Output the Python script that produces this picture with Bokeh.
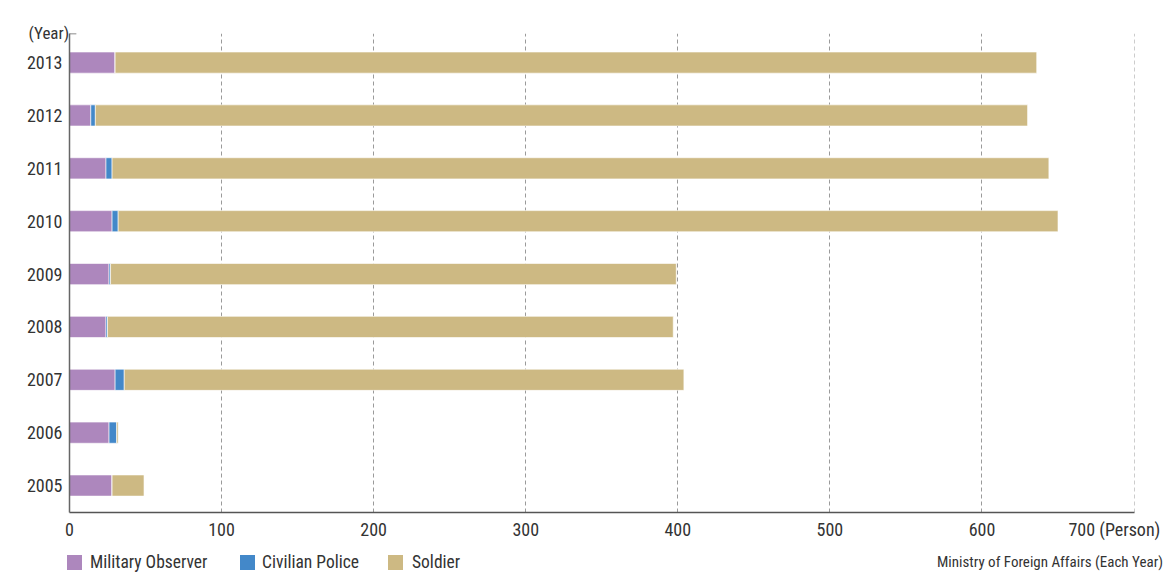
from bokeh.plotting import figure
from bokeh.layouts import column
from bokeh.models import ColumnDataSource, Range1d, FixedTicker, Title, Div
from bokeh.embed import file_html
from bokeh.resources import INLINE

years = [2005, 2006, 2007, 2008, 2009, 2010, 2011, 2012, 2013]
military_observer = [28, 26, 30, 24, 26, 28, 24, 14, 30]
civilian_police = [0, 5, 6, 1, 1, 4, 4, 3, 0]
soldier = [21, 1, 368, 372, 372, 618, 616, 613, 606]
series = ["Military Observer", "Civilian Police", "Soldier"]
colors = ["#ad87bd", "#4388c9", "#cdb983"]
x_ticks = [0, 100, 200, 300, 400, 500, 600, 700]
x_unit = "(Person)"
y_unit = "(Year)"
source_note = "Ministry of Foreign Affairs (Each Year)"

FONT = "'Roboto Condensed', 'DejaVu Sans Condensed', Roboto"
TXT = "#333333"

src = ColumnDataSource(dict(year=years, **{
    "Military Observer": military_observer,
    "Civilian Police": civilian_police,
    "Soldier": soldier,
}))

# ---------------- main chart ----------------
p = figure(width=1164, height=548, output_backend="svg", toolbar_location=None,
           x_range=Range1d(0, 700.3), y_range=Range1d(2004.49, 2013.55),
           min_border_left=69, min_border_right=30, min_border_top=33, min_border_bottom=36)
p.outline_line_color = None

renderers = p.hbar_stack(series, y="year", height=0.4, color=colors, source=src,
                         line_color="white", line_alpha=0.6, line_width=1)

p.xaxis.ticker = FixedTicker(ticks=x_ticks)
p.xaxis.major_label_overrides = {700: "700 " + x_unit + "\u00a0"}
p.xaxis.major_tick_line_color = None
p.xaxis.minor_tick_line_color = None
p.xaxis.axis_line_color = "#555555"
p.xaxis.axis_line_width = 1.5
p.xaxis.major_label_text_font = FONT
p.xaxis.major_label_text_font_size = "18px"
p.xaxis.major_label_text_color = TXT
p.xaxis.major_label_standoff = 0

p.yaxis.ticker = FixedTicker(ticks=years)
p.yaxis.major_tick_line_color = None
p.yaxis.minor_tick_line_color = None
p.yaxis.axis_line_color = "#666666"
p.yaxis.axis_line_width = 1.5
p.yaxis.major_label_text_font = FONT
p.yaxis.major_label_text_font_size = "18px"
p.yaxis.major_label_text_color = TXT
p.yaxis.major_label_standoff = 1

p.xgrid.ticker = FixedTicker(ticks=x_ticks[1:])
p.xgrid.grid_line_color = "#9a9a9a"
p.xgrid.grid_line_dash = "4 3"
p.ygrid.grid_line_color = None

# small cap at the top of the y axis
p.segment(x0=[0], y0=[2013.55], x1=[4.5], y1=[2013.55], line_color="#666666", line_width=1.5)

year_title = Title(text=y_unit, align="left", offset=-41, text_font=FONT,
                   text_font_size="17px", text_font_style="normal", text_color=TXT)
try:
    year_title.standoff = -18
except ValueError:
    year_title.standoff = 0
p.add_layout(year_title, "above")

# ---------------- legend strip (HTML) ----------------
swatch_left = [67, 240, 388]
label_left = [90, 262, 412]
parts = []
for name, col, sx, lx in zip(series, colors, swatch_left, label_left):
    parts.append(
        f'<span style="position:absolute;left:{sx}px;top:7px;width:15px;height:15px;'
        f'background:{col};"></span>'
        f'<span style="position:absolute;left:{lx}px;top:4px;line-height:20px;'
        f'font-size:17.5px;white-space:nowrap;">{name}</span>'
    )
parts.append(
    f'<span style="position:absolute;right:1px;top:4px;line-height:20px;'
    f'font-size:15px;white-space:nowrap;">{source_note}</span>'
)
html = (f'<div style="position:relative;width:1164px;height:24px;overflow:hidden;'
        f'font-family:{FONT};color:{TXT};">' + "".join(parts) + '</div>')
legend_div = Div(text=html, width=1164, height=24, margin=0)

open("out.html", "w").write(file_html(column(p, legend_div), INLINE))
